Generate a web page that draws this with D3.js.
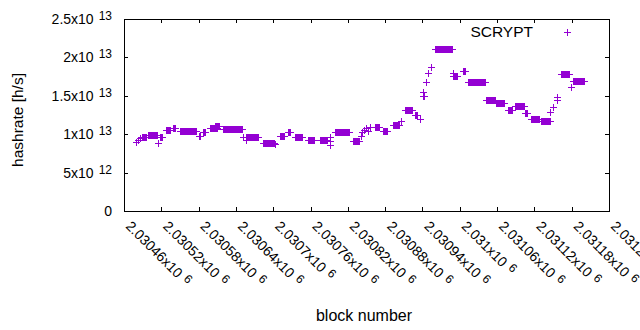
<!DOCTYPE html>
<html>
<head>
<meta charset="utf-8">
<script src="https://cdn.jsdelivr.net/npm/d3@7"></script>
<style>
  body { margin: 0; background: #fff; }
  svg { display: block; font-family: "Liberation Sans", Arial, sans-serif; }
</style>
</head>
<body>
<div id="chart"></div>
<script>
// block ranges where the estimate stays flat (one point per block)
var runStart = [2030489, 2030499, 2030518, 2030528, 2030539, 2030550, 2030581, 2030587, 2030598, 2030606,
                2030619, 2030656, 2030684, 2030711, 2030724, 2030735, 2030756, 2030775, 2030799, 2030828,
                2030864, 2030877, 2030893, 2030912, 2030928, 2030941, 2030960, 2030989, 2031005, 2031013,
                2031042, 2031058, 2031078, 2031089, 2031105, 2031115, 2031131, 2031163, 2031182];
var runEnd   = [2030495, 2030513, 2030521, 2030534, 2030542, 2030576, 2030582, 2030590, 2030610, 2030613,
                2030650, 2030675, 2030701, 2030717, 2030727, 2030746, 2030766, 2030786, 2030822, 2030838,
                2030870, 2030883, 2030902, 2030923, 2030931, 2030942, 2030987, 2030995, 2031008, 2031041,
                2031057, 2031071, 2031084, 2031103, 2031108, 2031127, 2031145, 2031176, 2031200];
var runRate  = [9.64e12, 9.90e12, 9.70e12, 10.55e12, 10.81e12, 10.42e12, 9.77e12, 10.29e12, 10.81e12, 11.07e12,
                10.74e12, 9.70e12, 8.79e12, 9.77e12, 10.29e12, 9.64e12, 9.24e12, 9.24e12, 10.35e12, 9.11e12,
                11.00e12, 10.48e12, 11.20e12, 13.15e12, 12.50e12, 14.97e12, 21.09e12, 17.58e12, 18.23e12, 16.86e12,
                14.45e12, 14.00e12, 13.15e12, 13.67e12, 12.76e12, 12.04e12, 11.72e12, 17.90e12, 16.93e12];

// scattered single points
var ptBlock = [2030479, 2030483, 2030486, 2030515, 2030651, 2030656, 2030685, 2030703, 2030791, 2030791,
               2030791, 2030841, 2030843, 2030846, 2030849, 2030852, 2030856, 2030905, 2030936, 2030941,
               2030946, 2030949, 2030954, 2030989, 2031145, 2031150, 2031156, 2031156, 2031179];
var ptRate  = [8.98e12, 9.24e12, 9.51e12, 8.85e12, 9.64e12, 9.24e12, 8.85e12, 8.72e12, 9.64e12, 9.11e12,
               8.59e12, 9.77e12, 10.29e12, 10.55e12, 10.81e12, 10.42e12, 10.94e12, 11.72e12, 11.98e12, 15.49e12,
               16.80e12, 17.97e12, 18.75e12, 17.97e12, 12.89e12, 13.54e12, 14.84e12, 14.45e12, 16.15e12];

var xTicks = [2030460, 2030520, 2030580, 2030640, 2030700, 2030760, 2030820,
              2030880, 2030940, 2031000, 2031060, 2031120, 2031180, 2031240];
var xTickLabels = ["2.03046", "2.03052", "2.03058", "2.03064", "2.0307", "2.03076", "2.03082",
                   "2.03088", "2.03094", "2.031", "2.03106", "2.03112", "2.03118", "2.03124"];
var yTicks = [0, 5e12, 1e13, 1.5e13, 2e13, 2.5e13];
var yTickMant = ["0", "5x10", "1x10", "1.5x10", "2x10", "2.5x10"];
var yTickExp = ["", "12", "13", "13", "13", "13"];

var svgWidth = 640, svgHeight = 330;
var margin = {top: 19, right: 31, bottom: 119, left: 124};
var width = svgWidth - margin.left - margin.right;
var height = svgHeight - margin.top - margin.bottom;
var purple = "#9400d3";

var svg = d3.select("#chart").append("svg")
  .attr("width", svgWidth)
  .attr("height", svgHeight);

var chartGroup = svg.append("g")
  .attr("transform", `translate(${margin.left}, ${margin.top})`);

var xScale = d3.scaleLinear().domain([2030460, 2031240]).range([0, width]);
var yScale = d3.scaleLinear().domain([0, 2.5e13]).range([height, 0]);

// points: every block of each flat run, plus the loose ones
var points = [];
runStart.forEach(function(s, i) {
  for (var b = s; b <= runEnd[i]; b++) points.push({block: b, rate: runRate[i]});
});
ptBlock.forEach(function(b, i) { points.push({block: b, rate: ptRate[i]}); });

// ticks, mirrored on all sides, pointing inward
var tickLen = 4;
chartGroup.append("g")
  .attr("transform", `translate(0, ${height})`)
  .call(d3.axisBottom(xScale).tickValues(xTicks).tickSize(-tickLen).tickSizeOuter(0).tickFormat(""));
chartGroup.append("g")
  .call(d3.axisTop(xScale).tickValues(xTicks).tickSize(-tickLen).tickSizeOuter(0).tickFormat(""));
chartGroup.append("g")
  .call(d3.axisLeft(yScale).tickValues(yTicks).tickSize(-tickLen).tickSizeOuter(0).tickFormat(""));
chartGroup.append("g")
  .attr("transform", `translate(${width}, 0)`)
  .call(d3.axisRight(yScale).tickValues(yTicks).tickSize(-tickLen).tickSizeOuter(0).tickFormat(""));
chartGroup.selectAll(".domain").remove();
chartGroup.selectAll(".tick line")
  .attr("stroke", "#000")
  .attr("shape-rendering", "crispEdges");

chartGroup.append("rect")
  .attr("x", 0).attr("y", 0)
  .attr("width", width).attr("height", height)
  .attr("fill", "none")
  .attr("stroke", "#000")
  .attr("shape-rendering", "crispEdges");

// y tick labels like 2.5x10^13
var yLab = chartGroup.append("g")
  .style("font-size", "14px")
  .attr("fill", "#000");
yTicks.forEach(function(t, i) {
  var txt = yLab.append("text")
    .attr("x", -12)
    .attr("y", yScale(t) + 5)
    .attr("text-anchor", "end");
  txt.append("tspan").text(yTickMant[i]);
  if (yTickExp[i]) {
    txt.append("tspan").attr("dx", 5).attr("dy", -4).style("font-size", "12px").text(yTickExp[i]);
  }
});

// x tick labels, rotated
var xLab = chartGroup.append("g")
  .style("font-size", "14px")
  .attr("fill", "#000");
xTicks.forEach(function(t, i) {
  var txt = xLab.append("text")
    .attr("transform", `translate(${xScale(t) + 1}, ${height + 16}) rotate(45)`)
    .attr("text-anchor", "start");
  txt.append("tspan").text(xTickLabels[i] + "x10");
  txt.append("tspan").attr("dx", 5).attr("dy", -4).style("font-size", "12px").text("6");
});

// axis titles
svg.append("text")
  .attr("transform", `translate(23, 120) rotate(-90)`)
  .attr("text-anchor", "middle")
  .style("font-size", "15.5px")
  .text("hashrate [h/s]");
svg.append("text")
  .attr("x", 364)
  .attr("y", 321)
  .attr("text-anchor", "middle")
  .style("font-size", "16px")
  .text("block number");

// data markers
var plus = "M-3.5,0H3.5M0,-3.5V3.5";
chartGroup.append("g")
  .selectAll("path")
  .data(points)
  .enter()
  .append("path")
  .attr("transform", d => `translate(${Math.round(xScale(d.block)) + 0.5}, ${Math.round(yScale(d.rate)) + 0.5})`)
  .attr("d", plus)
  .attr("fill", "none")
  .attr("stroke", purple)
  .attr("stroke-width", 1)
  .attr("shape-rendering", "crispEdges");

// legend
svg.append("text")
  .attr("x", 533)
  .attr("y", 37)
  .attr("text-anchor", "end")
  .style("font-size", "15.5px")
  .text("SCRYPT");
svg.append("path")
  .attr("transform", "translate(567.5, 32.5)")
  .attr("d", plus)
  .attr("fill", "none")
  .attr("stroke", purple)
  .attr("shape-rendering", "crispEdges");
</script>
</body>
</html>
